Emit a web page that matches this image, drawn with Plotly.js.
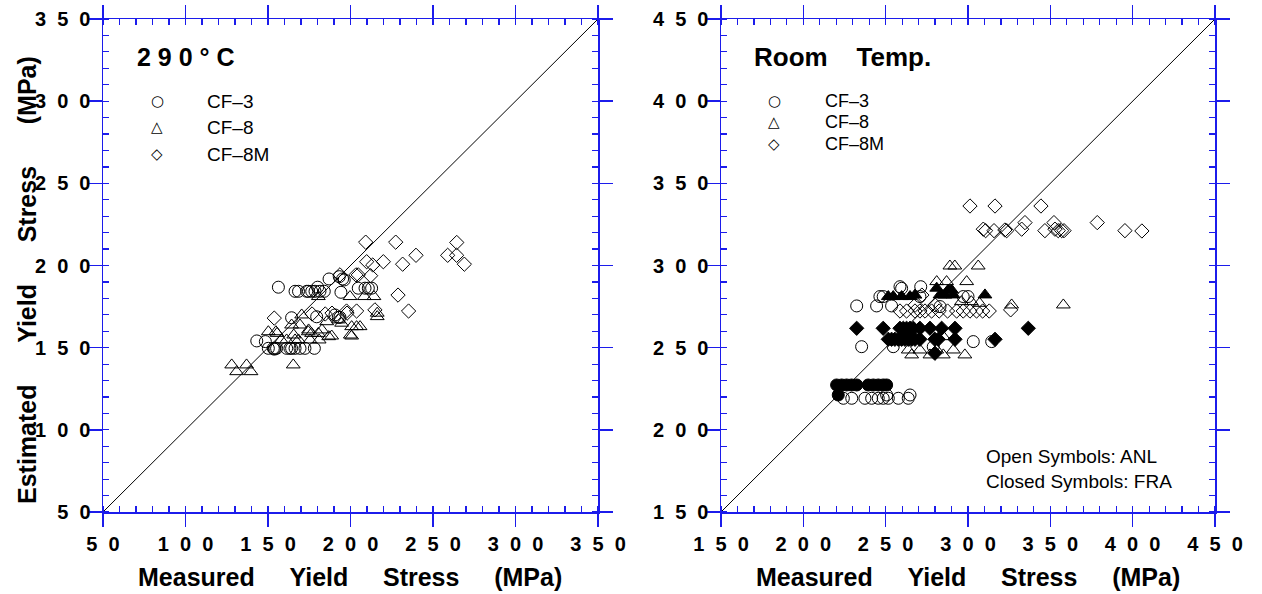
<!DOCTYPE html>
<html>
<head>
<meta charset="utf-8">
<script src="https://cdn.plot.ly/plotly-3.0.1.min.js"></script>
<style>html,body{margin:0;padding:0;background:#fff;}#chart{width:1262px;height:594px;}</style>
</head>
<body>
<div id="chart"></div>
<script>
// ---------------- DATA ----------------
// Left panel: 290 °C  (measured, estimated) in MPa
const leftRange = [50, 350];
const cf3L_x = [156.3,166.4,168.5,173.5,174.5,176.5,178.5,181.5,184.1,180.1,187.0,193.2,195.2,196.2,194.2,204.7,208.8,210.8,212.8,143.2,148.4,150.2,153.2,154.2,155.2,161.3,163.3,164.3,166.4,169.4,172.4,178.1,164.3,179.5,190.6,192.6,193.6,153.8];
const cf3L_y = [186.8,184.3,184.3,184.3,184.3,184.3,184.3,184.3,184.3,186.8,191.8,193.2,191.8,191.2,183.7,186.2,186.2,186.2,186.2,154.1,153.7,149.6,149.6,149.6,149.6,149.6,149.6,149.6,149.6,149.6,149.6,149.6,168.2,168.8,169.9,168.5,168.5,149.1];
const cf8L_x = [128.0,131.0,137.0,139.7,165.3,199.7,208.4,214.2,180.5,216.2,216.2,200.7,188.6,150.2,154.8,170.4,164.3,169.4,185.6,200.7,203.7,205.8,194.6,166.4,168.5,174.4,176.4,180.5,175.5,181.0,161.3,165.6,174.6,182.7,186.8,192.8,199.9,155.5,158.0];
const cf8L_y = [139.5,135.4,139.5,135.4,139.5,181.1,181.1,181.1,181.1,171.0,168.9,157.1,157.1,159.7,159.7,169.9,163.8,163.8,165.8,162.8,162.8,162.8,164.9,154.7,154.7,159.7,158.7,158.7,154.7,154.7,154.7,157.7,160.8,160.8,156.7,166.9,157.7,158.7,154.7];
const cf8mL_x = [209.2,227.4,264.4,239.7,258.9,264.3,219.9,209.8,213.5,231.6,269.0,193.6,203.3,204.7,212.2,228.8,235.2,153.8,203.7,197.6,214.8,176.7,184.7,188.8,197.9];
const cf8mL_y = [214.2,214.2,214.0,206.2,206.2,206.2,202.3,202.3,200.3,200.8,200.8,194.3,194.3,194.3,193.8,182.0,172.3,168.0,172.3,172.3,173.0,170.5,170.5,171.0,171.0];

// Right panel: room temperature
const rightRange = [150, 450];
// ANL (open symbols)
const cf3R_x = [232.4,244.5,253.6,258.7,259.7,271.3,246.5,248.5,235.4,254.6,278.9,303.2,314.4,283.0,297.1,270.8,300.0,224.3,229.4,237.4,241.5,245.5,248.5,251.6,257.7,263.7,250.6,264.8];
const cf3R_y = [275.4,275.4,275.4,287.1,286.1,287.1,281.1,281.1,250.6,250.6,250.6,253.7,253.7,275.0,281.1,281.1,281.1,219.2,219.2,219.2,219.2,219.2,219.2,219.2,219.2,219.2,221.2,221.2];
const cf8R_x = [289.0,292.0,306.2,281.0,287.0,299.2,326.5,357.9,263.7,265.8,270.8,276.9,281.0,285.0,291.1,298.1,285.0,296.0,302.0,307.0];
const cf8R_y = [299.7,299.7,299.7,290.2,290.2,290.2,276.0,276.0,248.6,245.6,248.6,245.6,248.6,245.6,248.6,245.6,256.7,278.0,278.0,277.0];
const cf8mR_x = [301.2,316.4,344.3,309.3,310.7,315.8,322.4,323.5,332.6,334.6,346.7,352.2,352.8,354.8,356.9,358.3,378.5,395.3,405.6,258.7,262.7,267.8,270.8,273.9,277.9,282.5,287.6,293.1,297.1,301.2,305.2,308.9,312.9,325.9,272.0,268.0,280.0];
const cf8mR_y = [336.2,336.2,336.2,322.1,321.2,321.2,321.6,321.2,322.1,326.1,321.2,326.1,322.1,321.2,321.2,321.2,326.1,321.2,321.0,272.3,272.3,272.3,272.3,272.3,272.3,272.3,272.3,272.3,272.3,272.3,272.3,272.3,272.3,273.0,282.0,276.0,276.0];
// FRA (closed symbols)
const cf3F_x = [220.2,223.3,226.3,229.3,232.4,239.4,242.5,245.5,248.5,250.6,221.2];
const cf3F_y = [227.3,227.3,227.3,227.3,227.3,227.3,227.3,227.3,227.3,227.3,221.2];
const cf8F_x = [251.6,254.6,259.7,264.8,281.0,283.0,288.0,290.0,291.0,310.3,267.8,286.0];
const cf8F_y = [281.1,281.1,281.1,281.1,286.2,282.1,285.1,285.1,282.1,282.1,282.0,282.0];
const cf8mF_x = [232.4,248.5,258.7,260.7,262.7,264.8,266.8,270.8,276.9,284.0,292.1,336.6,251.6,253.6,255.6,257.7,259.7,261.7,263.7,265.8,267.8,270.8,279.9,281.9,292.1,316.4,279.9];
const cf8mF_y = [261.8,261.8,261.8,261.8,261.8,261.8,261.8,261.8,261.8,261.8,261.8,261.8,255.1,255.1,255.1,255.1,255.1,255.1,255.1,255.1,255.1,255.1,255.1,255.1,255.1,255.1,246.6];

// Tick labels (digits drawn letter-spaced, as in the original)
const leftTicks = [50,100,150,200,250,300,350];
const leftTickText = ['5\u00a0\u00a00','1\u00a0\u00a00\u00a0\u00a00','1\u00a0\u00a05\u00a0\u00a00','2\u00a0\u00a00\u00a0\u00a00','2\u00a0\u00a05\u00a0\u00a00','3\u00a0\u00a00\u00a0\u00a00','3\u00a0\u00a05\u00a0\u00a00'];
const rightTicks = [150,200,250,300,350,400,450];
const rightTickText = ['1\u00a0\u00a05\u00a0\u00a00','2\u00a0\u00a00\u00a0\u00a00','2\u00a0\u00a05\u00a0\u00a00','3\u00a0\u00a00\u00a0\u00a00','3\u00a0\u00a05\u00a0\u00a00','4\u00a0\u00a00\u00a0\u00a00','4\u00a0\u00a05\u00a0\u00a00'];
const seriesNames = ['CF\u20133','CF\u20138','CF\u20138M'];
const legendGlyphs = ['\u25CB','\u25B3','\u25C7'];

// ---------------- LAYOUT HELPERS ----------------
const W = 1262, H = 594;
const M = {l:103, r:47, t:19, b:82};
const PW = W - M.l - M.r, PH = H - M.t - M.b;
const px2x = p => (p - M.l) / PW;
const px2y = p => (H - M.b - p) / PH;
const BLUE = 'rgb(28,28,235)';
const FONT = 'Liberation Sans, Arial, Helvetica, sans-serif';
const tickFont = {family: FONT, size: 20, color: '#000', weight: 700};
const titleFont = {family: FONT, size: 25, color: '#000', weight: 700};
const G5 = '\u00a0\u00a0\u00a0\u00a0\u00a0';
const G6 = '\u00a0\u00a0\u00a0\u00a0\u00a0\u00a0';
const xTitle = 'Measured' + G5 + 'Yield' + G5 + 'Stress' + G5 + '(MPa)';
const yTitle = 'Estimated' + G6 + 'Yield' + G6 + 'Stress' + G6 + '(MPa)';

const dom1 = [0, px2x(598)], dom2 = [px2x(721), 1];

function mainAxis(domain, range, tickvals, ticktext, anchor) {
  return {
    domain: domain, range: range, autorange: false, anchor: anchor,
    tickmode: 'array', tickvals: tickvals, ticktext: ticktext,
    ticks: 'outside', ticklen: 13, tickwidth: 1.5, tickcolor: BLUE,
    showline: true, linecolor: BLUE, linewidth: 1.5, mirror: 'ticks',
    showgrid: false, zeroline: false, tickfont: tickFont,
    minor: {tickmode: 'linear', tick0: range[0], dtick: 10, ticks: 'inside', ticklen: 6, tickwidth: 1.2, tickcolor: BLUE, showgrid: false}
  };
}
function innerAxis(over, domain, range, tickvals, anchor, len) {
  return {
    overlaying: over, domain: domain, range: range, autorange: false, anchor: anchor,
    tickmode: 'array', tickvals: tickvals, ticks: 'inside', ticklen: len, tickwidth: 1.5, tickcolor: BLUE,
    showticklabels: false, showline: false, showgrid: false, zeroline: false, mirror: 'ticks'
  };
}

// ---------------- TRACES ----------------
function pts(x, y, xa, ya, sym, size, name) {
  return {type: 'scatter', mode: 'markers', x: x, y: y, xaxis: xa, yaxis: ya, name: name,
    marker: {symbol: sym, size: size, color: '#000', line: {color: '#000', width: 1}}, showlegend: false, cliponaxis: false};
}
const traces = [
  {type:'scatter', mode:'lines', x: leftRange, y: leftRange, xaxis:'x', yaxis:'y', line:{color:'#000', width:1}, showlegend:false, hoverinfo:'skip'},
  {type:'scatter', mode:'lines', x: rightRange, y: rightRange, xaxis:'x2', yaxis:'y2', line:{color:'#000', width:1}, showlegend:false, hoverinfo:'skip'},
  pts(cf3L_x, cf3L_y, 'x', 'y', 'circle-open', 12, seriesNames[0]),
  pts(cf8L_x, cf8L_y, 'x', 'y', 'triangle-up-open', 12, seriesNames[1]),
  pts(cf8mL_x, cf8mL_y, 'x', 'y', 'diamond-open', 11, seriesNames[2]),
  pts(cf3R_x, cf3R_y, 'x2', 'y2', 'circle-open', 12, seriesNames[0] + ' ANL'),
  pts(cf8R_x, cf8R_y, 'x2', 'y2', 'triangle-up-open', 12, seriesNames[1] + ' ANL'),
  pts(cf8mR_x, cf8mR_y, 'x2', 'y2', 'diamond-open', 11, seriesNames[2] + ' ANL'),
  pts(cf3F_x, cf3F_y, 'x2', 'y2', 'circle', 12, seriesNames[0] + ' FRA'),
  pts(cf8F_x, cf8F_y, 'x2', 'y2', 'triangle-up', 12, seriesNames[1] + ' FRA'),
  pts(cf8mF_x, cf8mF_y, 'x2', 'y2', 'diamond', 11, seriesNames[2] + ' FRA')
];

// ---------------- ANNOTATIONS ----------------
const ann = [];
function addText(text, xpx, ypx, opts) {
  ann.push(Object.assign({xref:'paper', yref:'paper', x: px2x(xpx), y: px2y(ypx), text: text,
    showarrow:false, xanchor:'left', yanchor:'middle', font:{family: FONT, size: 19, color:'#000'}}, opts || {}));
}
addText('2 9 0 \u00b0 C', 135, 57, {font:{family: FONT, size: 25, color:'#000', weight:700}});
addText('Room\u00a0\u00a0\u00a0\u00a0Temp.', 752, 57, {font:{family: FONT, size: 26, color:'#000', weight:700}});
const legLeftY = [101, 127, 154], legRightY = [101, 122, 144];
for (let i = 0; i < 3; i++) {
  addText(legendGlyphs[i], 157, legLeftY[i], {xanchor:'center', font:{family:'DejaVu Sans', size: 15, color:'#000'}});
  addText(seriesNames[i], 205, legLeftY[i], {font:{family: FONT, size: 19, color:'#000'}});
  addText(legendGlyphs[i], 774, legRightY[i], {xanchor:'center', font:{family:'DejaVu Sans', size: 15, color:'#000'}});
  addText(seriesNames[i], 823, legRightY[i], {font:{family: FONT, size: 18, color:'#000'}});
}
addText('Open Symbols: ANL', 984, 456, {font:{family: FONT, size: 19, color:'#000'}});
addText('Closed Symbols: FRA', 984, 481, {font:{family: FONT, size: 19, color:'#000'}});
addText(yTitle, 27, 280, {xanchor:'center', textangle:-90, font: titleFont});
addText(xTitle, 350, 577, {xanchor:'center', font: titleFont});
addText(xTitle, 968, 577, {xanchor:'center', font: titleFont});

const layout = {
  width: W, height: H, margin: M, showlegend: false,
  paper_bgcolor: '#fff', plot_bgcolor: '#fff',
  xaxis: mainAxis(dom1, leftRange, leftTicks, leftTickText, 'y'),
  yaxis: mainAxis([0,1], leftRange, leftTicks, leftTickText, 'x'),
  xaxis2: mainAxis(dom2, rightRange, rightTicks, rightTickText, 'y2'),
  yaxis2: mainAxis([0,1], rightRange, rightTicks, rightTickText, 'x2'),
  xaxis3: innerAxis('x', dom1, leftRange, leftTicks, 'y', 10),
  yaxis3: innerAxis('y', [0,1], leftRange, leftTicks, 'x', 11),
  xaxis4: innerAxis('x2', dom2, rightRange, rightTicks, 'y2', 10),
  yaxis4: innerAxis('y2', [0,1], rightRange, rightTicks, 'x2', 11),
  annotations: ann,
  font: {family: FONT}
};
layout.yaxis.ticklabelstandoff = -6;
layout.yaxis2.ticklabelstandoff = -6;

Plotly.newPlot('chart', traces, layout, {staticPlot: true, displayModeBar: false});
</script>
</body>
</html>
